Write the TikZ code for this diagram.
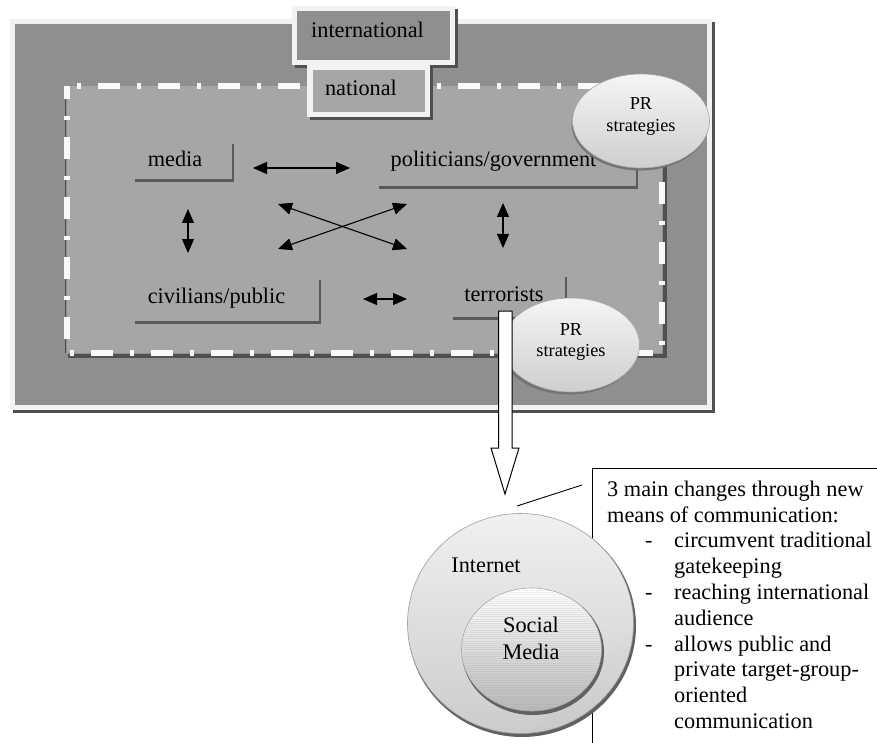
\documentclass[tikz,border=0pt]{standalone}
\usepackage{fontspec}
\setmainfont{Liberation Serif}
\usetikzlibrary{arrows.meta,shapes.geometric}
\definecolor{outerg}{HTML}{8F8F8F}
\definecolor{innerg}{HTML}{A6A6A6}
\definecolor{frameg}{HTML}{F2F2F2}
\definecolor{shadowg}{HTML}{505050}
\definecolor{bracketg}{HTML}{5A5A5A}
\tikzset{
  lbl/.style={anchor=base, inner sep=0pt, font=\fontsize{22.3}{26}\selectfont},
  prtext/.style={anchor=base, inner sep=0pt, font=\fontsize{18.3}{22}\selectfont},
  bracketh/.style={bracketg, line width=3pt},
  bracketv/.style={bracketg, line width=1.1pt},
  dbl/.style={black, line width=1.1pt, {Triangle[length=14pt,width=12pt]}-{Triangle[length=14pt,width=12pt]}},
  prell/.style={ellipse, minimum width=137pt, minimum height=94pt, inner sep=0pt,
     draw=gray!70, line width=0.6pt, top color=gray!8, bottom color=gray!38},
  prshadow/.style={ellipse, minimum width=137pt, minimum height=94pt, inner sep=0pt, fill=shadowg!80},
}
\begin{document}
\begin{tikzpicture}[x=1pt,y=-1pt]
\useasboundingbox (0,0) rectangle (877,743);
\fill[white] (0,0) rectangle (877,743);
% outer frame
\fill[shadowg] (13,22) rectangle (715,413);
\fill[frameg] (10,19) rectangle (712,410);
\fill[outerg] (15,24) rectangle (707,405);
% inner (national) area
\fill[innerg] (67,86) rectangle (662,353);
\draw[shadowg, line width=4pt] (68,356) -- (664.5,356) -- (664.5,88);
\draw[gray!60!black, line width=0.6pt] (65.5,86) -- (65.5,353);
\draw[white!95!gray, line width=5.5pt, dash pattern=on 4pt off 17pt on 22pt off 17pt, dash phase=-10pt]
  (67,86) -- (662,86) -- (662,353) -- (67,353) -- cycle;
% international box
\fill[shadowg] (295,9) rectangle (458,68);
\fill[frameg] (292,6) rectangle (455,65);
\fill[outerg] (297,11) rectangle (450,60);
\node[lbl] (intl) at (367.5,38) {international};
% national box
\fill[shadowg] (310,68) rectangle (433,120);
\fill[frameg] (307,65) rectangle (430,117);
\fill[innerg] (313,70) rectangle (425,112);
\node[lbl] (natl) at (361,96) {national};
% brackets
\draw[bracketh] (135,181) -- (234,181);
\draw[bracketv] (233,144) -- (233,182);
\draw[bracketh] (379,188) -- (638,188);
\draw[bracketv] (637,150) -- (637,189);
\draw[bracketh] (135,322) -- (321,322);
\draw[bracketv] (320,280) -- (320,323);
\draw[bracketh] (453,318) -- (567,318);
\draw[bracketv] (566,277) -- (566,319);
% actor labels
\node[lbl] (media) at (175,167) {media};
\node[lbl] (pol) at (493.5,167) {politicians/government};
\node[lbl] (civ) at (216.5,303) {civilians/public};
\node[lbl] (terr) at (504,301) {terrorists};
% arrows
\coordinate (a1) at (253,168); \coordinate (a2) at (350,168);
\coordinate (b1) at (188,209); \coordinate (b2) at (188,253);
\coordinate (c1) at (278,204); \coordinate (c2) at (407,249);
\coordinate (d1) at (278,249); \coordinate (d2) at (407,204);
\coordinate (e1) at (503,203); \coordinate (e2) at (503,248);
\coordinate (f1) at (363,299); \coordinate (f2) at (407,299);
\draw[dbl] (a1) -- (a2);
\draw[dbl] (b1) -- (b2);
\draw[dbl] (c1) -- (c2);
\draw[dbl] (d1) -- (d2);
\draw[dbl] (e1) -- (e2);
\draw[dbl] (f1) -- (f2);
% PR ellipses
\node[prshadow] at (640,123.5) {};
\node[prell] (pr1) at (641,121) {};
\node[prtext] (pr1a) at (641,110) {PR};
\node[prtext] (pr1b) at (641,132) {strategies};
\node[prshadow] at (569,347.5) {};
\node[prell] (pr2) at (571,345) {};
\node[prtext] (pr2a) at (571,335) {PR};
\node[prtext] (pr2b) at (571,356) {strategies};
% big hollow arrow
\draw[black, line width=1pt, fill=white, line join=miter]
  (498.5,311) -- (512,311) -- (512,448) -- (519,448) -- (505,494) -- (491,448) -- (498.5,448) -- cycle;
% callout and text box frame (behind the circles)
\coordinate (cl1) at (517,506);
\coordinate (cl2) at (582,485);
\draw[black, line width=0.9pt] (cl1) -- (cl2);
\coordinate (bx1) at (592,743);
\coordinate (bx2) at (592,468);
\coordinate (bx3) at (877,468);
\draw[black, line width=0.9pt] (bx1) -- (bx2) -- (bx3);
% Internet circle
\fill[shadowg!90] (522,626) ellipse [x radius=114, y radius=111];
\shade[top color=gray!12, bottom color=gray!42, draw=gray!75, line width=0.6pt]
  (520.5,623.5) ellipse [x radius=113, y radius=110];
\begin{scope}
\clip (520.5,623.5) ellipse [x radius=112, y radius=109];
\foreach \k in {0,3,...,360} {\draw[white, opacity=0.18, line width=0.5pt] (400+\k,500) -- (400+\k-240,740);}
\end{scope}
\node[lbl] (inet) at (486,572) {Internet};
% Social media circle
\fill[shadowg!90] (533,652) ellipse [x radius=71, y radius=63];
\shade[top color=white, bottom color=gray!55, draw=gray!70, line width=0.6pt]
  (531.5,649.5) ellipse [x radius=70, y radius=61.5];
\begin{scope}
\clip (531.5,649.5) ellipse [x radius=69, y radius=60.5];
\foreach \k in {0,2.2,...,125} {\draw[gray, opacity=0.12, line width=0.6pt] (460,588+\k) -- (605,588+\k);}
\end{scope}
\node[lbl] (soc) at (531,632) {Social};
\node[lbl] (smed) at (531,659) {Media};
% box text
\node[anchor=north west, inner sep=0pt, align=left, font=\fontsize{22.3}{25.8}\selectfont] (txt) at (607,480.6)
{3 main changes through new\\
means of communication:\\
\makebox[67pt][l]{\hspace*{38pt}-}circumvent traditional\\
\hspace*{67pt}gatekeeping\\
\makebox[67pt][l]{\hspace*{38pt}-}reaching international\\
\hspace*{67pt}audience\\
\makebox[67pt][l]{\hspace*{38pt}-}allows public and\\
\hspace*{67pt}private target-group-\\
\hspace*{67pt}oriented\\
\hspace*{67pt}communication};
\end{tikzpicture}
\end{document}
